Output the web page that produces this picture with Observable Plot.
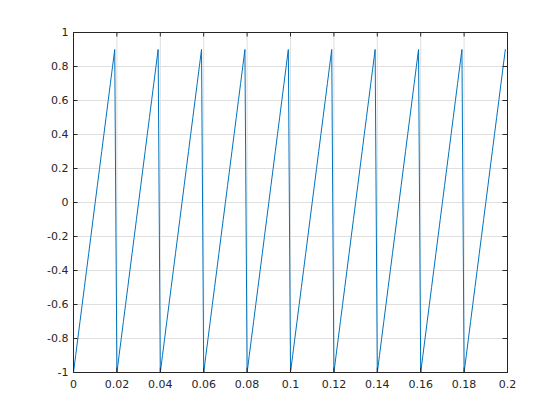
<!DOCTYPE html>
<html><head><meta charset="utf-8">
<script src="https://cdn.jsdelivr.net/npm/d3@7"></script>
<script src="https://cdn.jsdelivr.net/npm/@observablehq/plot@0.6"></script>
<style>body{margin:0;background:#fff}</style>
</head><body><div id="chart"></div>
<script>
const timeMs = [
0,1,2,3,4,5,6,7,8,9,10,11,12,13,14,15,16,17,18,19,
20,21,22,23,24,25,26,27,28,29,30,31,32,33,34,35,36,37,38,39,
40,41,42,43,44,45,46,47,48,49,50,51,52,53,54,55,56,57,58,59,
60,61,62,63,64,65,66,67,68,69,70,71,72,73,74,75,76,77,78,79,
80,81,82,83,84,85,86,87,88,89,90,91,92,93,94,95,96,97,98,99,
100,101,102,103,104,105,106,107,108,109,110,111,112,113,114,115,116,117,118,119,
120,121,122,123,124,125,126,127,128,129,130,131,132,133,134,135,136,137,138,139,
140,141,142,143,144,145,146,147,148,149,150,151,152,153,154,155,156,157,158,159,
160,161,162,163,164,165,166,167,168,169,170,171,172,173,174,175,176,177,178,179,
180,181,182,183,184,185,186,187,188,189,190,191,192,193,194,195,196,197,198,199];
const amplitude = [
-1,-0.9,-0.8,-0.7,-0.6,-0.5,-0.4,-0.3,-0.2,-0.1,0,0.1,0.2,0.3,0.4,0.5,0.6,0.7,0.8,0.9,
-1,-0.9,-0.8,-0.7,-0.6,-0.5,-0.4,-0.3,-0.2,-0.1,0,0.1,0.2,0.3,0.4,0.5,0.6,0.7,0.8,0.9,
-1,-0.9,-0.8,-0.7,-0.6,-0.5,-0.4,-0.3,-0.2,-0.1,0,0.1,0.2,0.3,0.4,0.5,0.6,0.7,0.8,0.9,
-1,-0.9,-0.8,-0.7,-0.6,-0.5,-0.4,-0.3,-0.2,-0.1,0,0.1,0.2,0.3,0.4,0.5,0.6,0.7,0.8,0.9,
-1,-0.9,-0.8,-0.7,-0.6,-0.5,-0.4,-0.3,-0.2,-0.1,0,0.1,0.2,0.3,0.4,0.5,0.6,0.7,0.8,0.9,
-1,-0.9,-0.8,-0.7,-0.6,-0.5,-0.4,-0.3,-0.2,-0.1,0,0.1,0.2,0.3,0.4,0.5,0.6,0.7,0.8,0.9,
-1,-0.9,-0.8,-0.7,-0.6,-0.5,-0.4,-0.3,-0.2,-0.1,0,0.1,0.2,0.3,0.4,0.5,0.6,0.7,0.8,0.9,
-1,-0.9,-0.8,-0.7,-0.6,-0.5,-0.4,-0.3,-0.2,-0.1,0,0.1,0.2,0.3,0.4,0.5,0.6,0.7,0.8,0.9,
-1,-0.9,-0.8,-0.7,-0.6,-0.5,-0.4,-0.3,-0.2,-0.1,0,0.1,0.2,0.3,0.4,0.5,0.6,0.7,0.8,0.9,
-1,-0.9,-0.8,-0.7,-0.6,-0.5,-0.4,-0.3,-0.2,-0.1,0,0.1,0.2,0.3,0.4,0.5,0.6,0.7,0.8,0.9];
const xTicks = [0,0.02,0.04,0.06,0.08,0.1,0.12,0.14,0.16,0.18,0.2];
const xTickLabels = ["0","0.02","0.04","0.06","0.08","0.1","0.12","0.14","0.16","0.18","0.2"];
const yTicks = [-1,-0.8,-0.6,-0.4,-0.2,0,0.2,0.4,0.6,0.8,1];
const yTickLabels = ["-1","-0.8","-0.6","-0.4","-0.2","0","0.2","0.4","0.6","0.8","1"];

const data = timeMs.map((ms, i) => ({t: ms / 1000, v: amplitude[i]}));
const axisColor = "#262626";
const W = 560, H = 420, mL = 73, mR = 53, mT = 32, mB = 48;
const pw = W - mL - mR, ph = H - mT - mB;
const tick = 4.5;

const chart = Plot.plot({
  width: W, height: H,
  marginLeft: mL, marginRight: mR, marginTop: mT, marginBottom: mB,
  style: {fontFamily: "DejaVu Sans", fontSize: "11px", color: axisColor, background: "#fff"},
  x: {domain: [0, 0.2]},
  y: {domain: [-1, 1]},
  marks: [
    Plot.gridX(xTicks, {stroke: "#dfdfdf", strokeOpacity: 1}),
    Plot.gridY(yTicks, {stroke: "#dfdfdf", strokeOpacity: 1}),
    Plot.line(data, {x: "t", y: "v", stroke: "#0072BD", strokeWidth: 1}),
    Plot.frame({stroke: axisColor, strokeWidth: 1}),
    Plot.tickX(xTicks, {x: d => d, stroke: axisColor, insetTop: ph - tick}),
    Plot.tickX(xTicks, {x: d => d, stroke: axisColor, insetBottom: ph - tick}),
    Plot.tickY(yTicks, {y: d => d, stroke: axisColor, insetRight: pw - tick}),
    Plot.tickY(yTicks, {y: d => d, stroke: axisColor, insetLeft: pw - tick}),
    Plot.axisX(xTicks, {anchor: "bottom", tickSize: 0, tickPadding: 8, label: null,
      tickFormat: d => xTickLabels[xTicks.indexOf(d)]}),
    Plot.axisY(yTicks, {anchor: "left", tickSize: 0, tickPadding: 5, label: null,
      tickFormat: d => yTickLabels[yTicks.indexOf(d)]})
  ]
});
document.getElementById("chart").appendChild(chart);
</script>
</body></html>
